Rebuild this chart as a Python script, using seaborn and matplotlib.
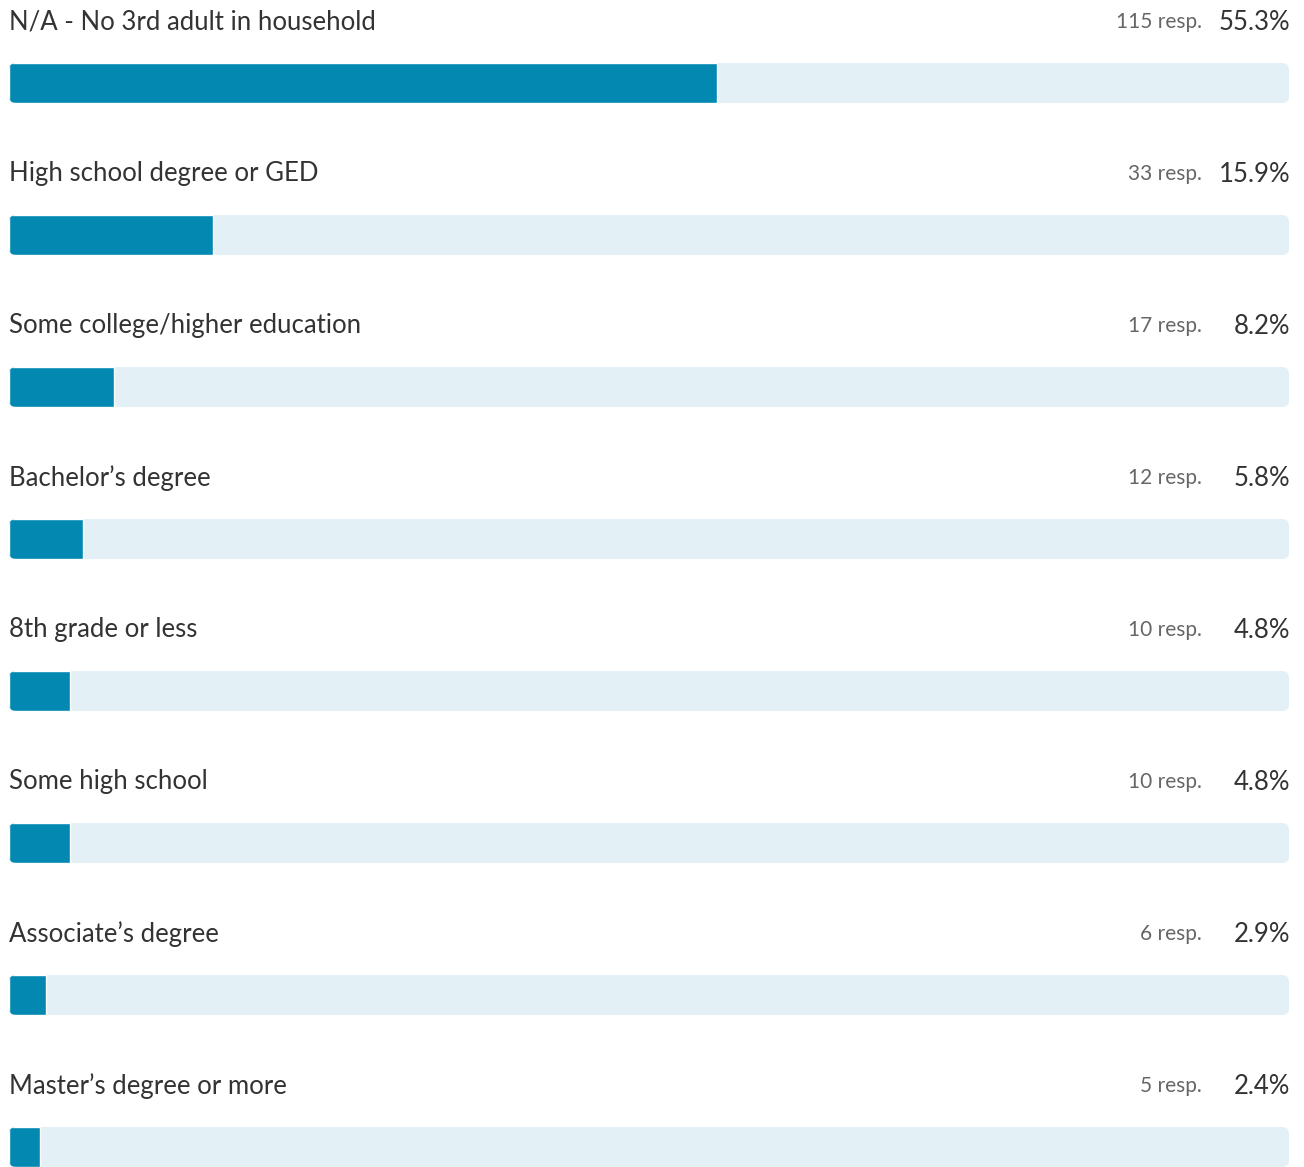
import matplotlib
matplotlib.use("Agg")
import matplotlib.pyplot as plt
import seaborn as sns
import pandas as pd
from matplotlib.patches import FancyBboxPatch

# survey answers, sorted by count
categories = [
    "N/A - No 3rd adult in household",
    "High school degree or GED",
    "Some college/higher education",
    "Bachelor\u2019s degree",
    "8th grade or less",
    "Some high school",
    "Associate\u2019s degree",
    "Master\u2019s degree or more",
]
responses = [115, 33, 17, 12, 10, 10, 6, 5]
percents = [55.3, 15.9, 8.2, 5.8, 4.8, 4.8, 2.9, 2.4]

FILL = "#0288b1"
TRACK = "#e3f0f6"
W, H = 1304, 1167

sns.set_theme(style="white")
plt.rcParams["font.family"] = ["Lato", "DejaVu Sans"]

df = pd.DataFrame({"answer": categories, "pct": percents, "full": [100] * len(categories)})

fig = plt.figure(figsize=(W / 100, H / 100), dpi=100)
ax = fig.add_axes([0, 0, 1, 1])

bar_h = 40 / 152
sns.barplot(data=df, y="answer", x="full", color=TRACK, width=bar_h, ax=ax, saturation=1)
n = len(categories)
sns.barplot(data=df, y="answer", x="pct", color=FILL, width=bar_h, ax=ax, saturation=1)

# pixel mapping: x 0 -> px 9, 100 -> px 1289 ; row i centre -> px 83 + 152 i
px = 1280 / 100
ax.set_xlim(-9 / px, 100 + 15 / px)
ax.set_ylim((H - 83) / 152, -83 / 152)
ax.axis("off")

# rounded track, fill clipped to it
patches = list(ax.patches)
tracks, fills = patches[:n], patches[n:]
aspect = (1 / 152) / (1 / px)
for t, f in zip(tracks, fills):
    x0, y0 = t.get_x(), t.get_y()
    w, h = t.get_width(), t.get_height()
    rp = FancyBboxPatch((x0, y0), w, h,
                        boxstyle=f"round,pad=0,rounding_size={7 / px}",
                        mutation_aspect=aspect, facecolor=TRACK, edgecolor="none")
    t.remove()
    ax.add_patch(rp)
    f.set_clip_path(rp)
    f.set_zorder(3)

for i, (lab, r, p) in enumerate(zip(categories, responses, percents)):
    ty = i - 61 / 152
    ax.text(0, ty, lab, fontsize=18.5, color="#333333", va="center", ha="left")
    ax.text(100 + 1 / px, ty, f"{p:.1f}%", fontsize=18.5, color="#333333", va="center", ha="right")
    ax.text((1202 - 9) / px, ty, f"{r} resp.", fontsize=15, color="#666666", va="center", ha="right")

fig.savefig("out.png", dpi=100)
